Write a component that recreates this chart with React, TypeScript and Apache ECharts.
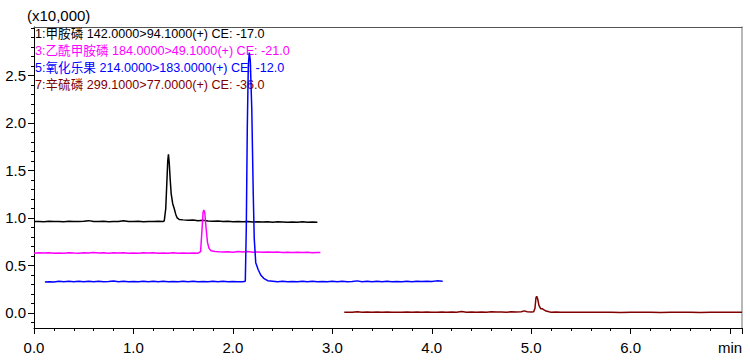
import React, { useEffect, useRef } from "react";
import * as echarts from "echarts";

// Legend / trace names (MRM transitions)
const traceLabels = [
  "1:甲胺磷 142.0000>94.1000(+) CE: -17.0",
  "3:乙酰甲胺磷 184.0000>49.1000(+) CE: -21.0",
  "5:氧化乐果 214.0000>183.0000(+) CE: -12.0",
  "7:辛硫磷 299.1000>77.0000(+) CE: -36.0",
];
const traceColors = ["#000000", "#ff00ff", "#0000ff", "#800000"];

// Tick labels
const yMajorTicks = [0, 0.5, 1.0, 1.5, 2.0, 2.5];
const yMinorTicks = [-0.1, 0, 0.1, 0.2, 0.3, 0.4, 0.5, 0.6, 0.7, 0.8, 0.9, 1.0, 1.1, 1.2, 1.3, 1.4, 1.5, 1.6, 1.7, 1.8, 1.9, 2.0, 2.1, 2.2, 2.3, 2.4, 2.5, 2.6, 2.7, 2.8, 2.9, 3.0];
const xUnitLabel = "min";
const yScaleLabel = "(x10,000)";

// [time (min), intensity (x10,000)]
const methamidophos: [number, number][] = [
  [0.0, 0.962], [0.05, 0.964], [0.1, 0.961], [0.15, 0.965], [0.2, 0.962], [0.25, 0.964], [0.3, 0.961],
  [0.35, 0.966], [0.4, 0.963], [0.45, 0.962], [0.5, 0.965], [0.55, 0.972], [0.6, 0.963], [0.65, 0.962],
  [0.7, 0.965], [0.75, 0.961], [0.8, 0.964], [0.85, 0.962], [0.9, 0.971], [0.95, 0.963], [1.0, 0.962],
  [1.05, 0.965], [1.1, 0.961], [1.15, 0.964], [1.2, 0.962], [1.25, 0.965], [1.3, 0.963], [1.31, 0.97],
  [1.325, 1.1], [1.335, 1.35], [1.345, 1.6], [1.352, 1.67], [1.36, 1.58], [1.37, 1.4], [1.38, 1.25],
  [1.395, 1.15], [1.41, 1.1], [1.425, 1.04], [1.44, 1.0], [1.46, 0.985], [1.5, 0.98], [1.55, 0.976],
  [1.6, 0.979], [1.65, 0.972], [1.7, 0.975], [1.75, 0.969], [1.8, 0.966], [1.85, 0.968], [1.9, 0.963],
  [1.95, 0.965], [2.0, 0.961], [2.05, 0.964], [2.1, 0.959], [2.15, 0.962], [2.2, 0.958], [2.25, 0.961],
  [2.3, 0.957], [2.35, 0.96], [2.4, 0.956], [2.45, 0.959], [2.5, 0.957], [2.55, 0.955], [2.6, 0.958],
  [2.65, 0.956], [2.7, 0.959], [2.75, 0.954], [2.8, 0.957], [2.85, 0.955],
];

const acephate: [number, number][] = [
  [0.0, 0.63], [0.05, 0.633], [0.1, 0.631], [0.15, 0.634], [0.2, 0.63], [0.25, 0.632], [0.3, 0.629],
  [0.35, 0.633], [0.4, 0.631], [0.45, 0.63], [0.5, 0.634], [0.55, 0.632], [0.6, 0.636], [0.65, 0.631],
  [0.7, 0.633], [0.75, 0.63], [0.8, 0.634], [0.85, 0.631], [0.9, 0.633], [0.95, 0.629], [1.0, 0.632],
  [1.05, 0.63], [1.1, 0.633], [1.15, 0.631], [1.2, 0.634], [1.25, 0.63], [1.3, 0.632], [1.35, 0.629],
  [1.4, 0.633], [1.45, 0.63], [1.5, 0.632], [1.55, 0.629], [1.6, 0.631], [1.65, 0.63], [1.675, 0.645],
  [1.688, 0.85], [1.7, 1.06], [1.708, 1.085], [1.718, 1.05], [1.73, 0.9], [1.745, 0.74], [1.76, 0.68],
  [1.78, 0.655], [1.82, 0.648], [1.86, 0.645], [1.9, 0.643], [1.95, 0.645], [2.0, 0.64], [2.05, 0.646],
  [2.1, 0.641], [2.15, 0.648], [2.2, 0.64], [2.25, 0.643], [2.3, 0.639], [2.35, 0.642], [2.4, 0.638],
  [2.45, 0.641], [2.5, 0.637], [2.55, 0.64], [2.6, 0.636], [2.65, 0.639], [2.7, 0.636], [2.75, 0.638],
  [2.8, 0.635], [2.85, 0.637], [2.88, 0.636],
];

const omethoate: [number, number][] = [
  [0.11, 0.325], [0.15, 0.33], [0.2, 0.327], [0.25, 0.333], [0.3, 0.329], [0.35, 0.335], [0.4, 0.33],
  [0.45, 0.334], [0.5, 0.328], [0.55, 0.333], [0.6, 0.33], [0.65, 0.335], [0.7, 0.329], [0.75, 0.332],
  [0.8, 0.336], [0.85, 0.33], [0.9, 0.333], [0.95, 0.328], [1.0, 0.332], [1.05, 0.329], [1.1, 0.334],
  [1.15, 0.33], [1.2, 0.333], [1.25, 0.329], [1.3, 0.334], [1.35, 0.33], [1.4, 0.332], [1.45, 0.328],
  [1.5, 0.333], [1.55, 0.33], [1.6, 0.335], [1.65, 0.329], [1.7, 0.332], [1.75, 0.328], [1.8, 0.333],
  [1.85, 0.33], [1.9, 0.334], [1.95, 0.329], [2.0, 0.331], [2.05, 0.328], [2.1, 0.33], [2.125, 0.334],
  [2.135, 0.9], [2.145, 1.95], [2.155, 2.6], [2.165, 2.74], [2.175, 2.66], [2.19, 2.15], [2.205, 1.25],
  [2.215, 0.78], [2.23, 0.53], [2.255, 0.455], [2.28, 0.4], [2.31, 0.365], [2.35, 0.34], [2.4, 0.335],
  [2.45, 0.33], [2.5, 0.334], [2.55, 0.328], [2.6, 0.332], [2.65, 0.329], [2.7, 0.333], [2.75, 0.33],
  [2.8, 0.335], [2.85, 0.328], [2.9, 0.332], [2.95, 0.329], [3.0, 0.333], [3.05, 0.33], [3.1, 0.334],
  [3.15, 0.329], [3.2, 0.332], [3.25, 0.338], [3.3, 0.33], [3.35, 0.333], [3.4, 0.329], [3.45, 0.335],
  [3.5, 0.33], [3.55, 0.333], [3.6, 0.328], [3.65, 0.332], [3.7, 0.33], [3.75, 0.334], [3.8, 0.329],
  [3.85, 0.333], [3.9, 0.331], [3.95, 0.335], [4.0, 0.332], [4.05, 0.338], [4.11, 0.335],
];

const phoxim: [number, number][] = [
  [3.12, 0.007], [3.15, 0.009], [3.2, 0.007], [3.25, 0.012], [3.3, 0.008], [3.35, 0.01], [3.4, 0.007],
  [3.45, 0.011], [3.5, 0.008], [3.55, 0.01], [3.6, 0.007], [3.65, 0.009], [3.7, 0.008], [3.75, 0.011],
  [3.8, 0.007], [3.85, 0.01], [3.9, 0.008], [3.95, 0.011], [4.0, 0.009], [4.05, 0.008], [4.1, 0.011],
  [4.15, 0.008], [4.2, 0.01], [4.25, 0.009], [4.3, 0.015], [4.35, 0.009], [4.4, 0.01], [4.45, 0.008],
  [4.5, 0.011], [4.55, 0.009], [4.6, 0.012], [4.65, 0.01], [4.7, 0.011], [4.75, 0.009], [4.8, 0.012],
  [4.85, 0.01], [4.9, 0.013], [4.93, 0.022], [4.96, 0.014], [5.0, 0.011], [5.025, 0.013], [5.038, 0.05],
  [5.048, 0.16], [5.055, 0.175], [5.065, 0.15], [5.078, 0.08], [5.095, 0.045], [5.11, 0.045],
  [5.125, 0.035], [5.15, 0.02], [5.18, 0.012], [5.2, 0.009], [5.25, 0.01], [5.3, 0.007], [5.35, 0.009],
  [5.4, 0.008], [5.5, 0.007], [5.6, 0.009], [5.7, 0.007], [5.8, 0.008], [5.9, 0.006], [6.0, 0.008],
  [6.1, 0.007], [6.2, 0.009], [6.3, 0.006], [6.4, 0.008], [6.5, 0.007], [6.6, 0.009], [6.7, 0.006],
  [6.8, 0.008], [6.9, 0.007], [7.0, 0.008], [7.12, 0.007],
];

const traces = [methamidophos, acephate, omethoate, phoxim];

const FONT = "'Liberation Sans', Arial, 'Noto Sans CJK SC', sans-serif";

export default function App() {
  const ref = useRef<HTMLDivElement>(null);
  useEffect(() => {
    if (!ref.current) return;
    const chart = echarts.init(ref.current, null, { renderer: "svg" });
    const yMin = -0.158;
    const yMax = 3.01;
    const option: any = {
      animation: false,
      grid: { left: 34, right: 8, top: 27, bottom: 32, containLabel: false, outerBoundsMode: "none" },
      xAxis: [
        {
          type: "value",
          min: 0,
          max: 7.12,
          interval: 1,
          axisLine: { show: true, onZero: false, lineStyle: { color: "#000", width: 1 } },
          axisTick: { show: true, inside: false, length: 6, lineStyle: { color: "#000" } },
          minorTick: { show: true, splitNumber: 5, length: 3, lineStyle: { color: "#000" } },
          splitLine: { show: false },
          axisLabel: {
            color: "#000",
            fontSize: 15,
            fontFamily: FONT,
            margin: 12,
            formatter: (v: number) => (Math.abs(v - 7) < 1e-9 ? xUnitLabel : v.toFixed(1)),
          },
        },
        {
          type: "value",
          position: "top",
          min: 0,
          max: 7.12,
          axisLine: { show: true, onZero: false, lineStyle: { color: "#555", width: 1 } },
          axisTick: { show: false },
          axisLabel: { show: false },
          splitLine: { show: false },
        },
      ],
      yAxis: [
        {
          type: "value",
          min: yMin,
          max: yMax,
          axisLine: { show: true, onZero: false, lineStyle: { color: "#000", width: 1 } },
          axisTick: { show: true, inside: false, length: 6, customValues: yMajorTicks, lineStyle: { color: "#000" } },
          axisLabel: {
            color: "#000",
            fontSize: 15,
            fontFamily: FONT,
            margin: 8,
            customValues: yMajorTicks,
            formatter: (v: number) => v.toFixed(1),
          },
          splitLine: { show: false },
        },
        {
          type: "value",
          position: "left",
          min: yMin,
          max: yMax,
          axisLine: { show: false, onZero: false },
          axisTick: { show: true, inside: false, length: 3, customValues: yMinorTicks, lineStyle: { color: "#000" } },
          axisLabel: { show: false },
          splitLine: { show: false },
        },
        {
          type: "value",
          position: "right",
          min: yMin,
          max: yMax,
          axisLine: { show: true, onZero: false, lineStyle: { color: "#a0a0a0", width: 1.5 } },
          axisTick: { show: false },
          axisLabel: { show: false },
          splitLine: { show: false },
        },
      ],
      graphic: [
        {
          type: "text",
          x: 27,
          y: 15,
          style: { text: yScaleLabel, fill: "#000", font: `15px ${FONT}`, verticalAlign: "middle" },
        },
        ...traceLabels.map((t, i) => ({
          type: "text",
          x: 35,
          y: 34 + i * 17,
          z: 1,
          style: { text: t, fill: traceColors[i], font: `12.6px ${FONT}`, verticalAlign: "middle" },
        })),
      ],
      series: traces.map((d, i) => ({
        type: "line",
        name: traceLabels[i],
        data: d,
        xAxisIndex: 0,
        yAxisIndex: 0,
        showSymbol: false,
        symbol: "none",
        z: 3 + i,
        lineStyle: { color: traceColors[i], width: 1.5 },
        emphasis: { disabled: true },
      })),
    };
    chart.setOption(option);
    return () => chart.dispose();
  }, []);
  return (
    <div
      ref={ref}
      style={{ position: "fixed", left: 0, top: 0, width: 750, height: 360, background: "#fff" }}
    />
  );
}
